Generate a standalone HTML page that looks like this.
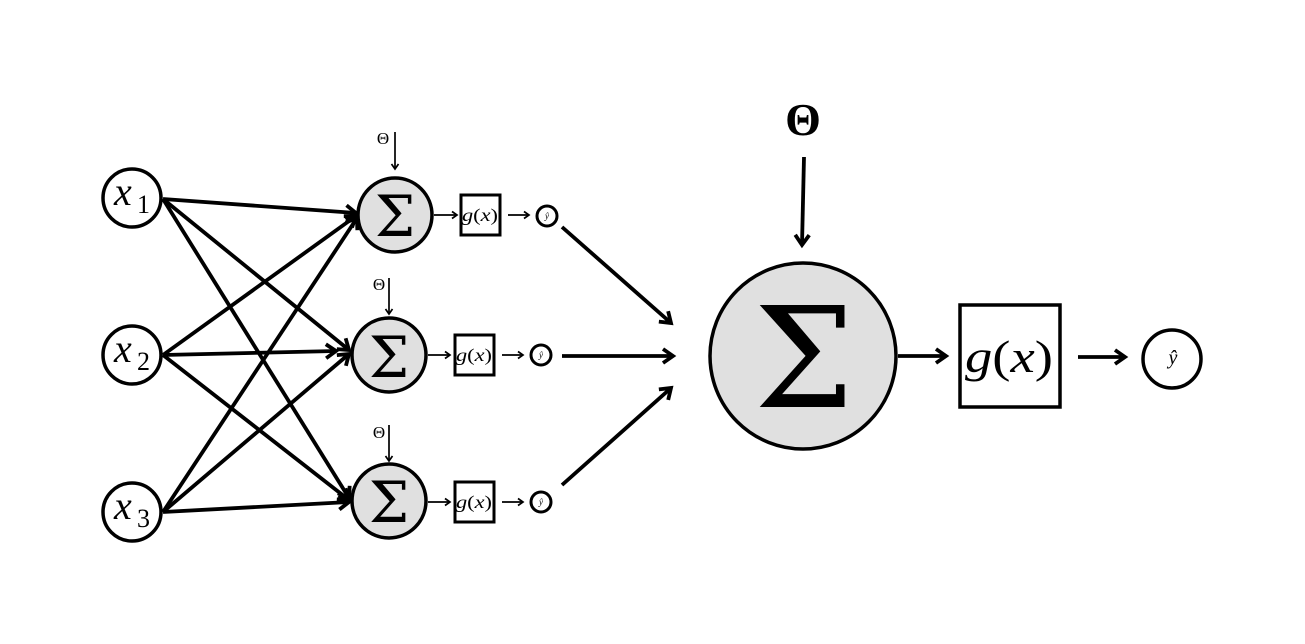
<!DOCTYPE html>
<html><head><meta charset="utf-8"><style>
html,body{margin:0;padding:0;background:#fff;}
svg{display:block;}
text{font-family:"Liberation Serif",serif;fill:#000;}
.sg{font-family:"DejaVu Serif","Liberation Serif",serif;}
</style></head><body>
<svg width="1305" height="644" viewBox="0 0 1305 644" xmlns="http://www.w3.org/2000/svg">
<defs>
<marker id="a" markerWidth="20" markerHeight="20" refX="13" refY="9" orient="auto" markerUnits="userSpaceOnUse">
<path d="M3,2 L13,9 L3,16" fill="none" stroke="#000" stroke-width="3.8"/>
</marker>
<marker id="s" markerWidth="12" markerHeight="12" refX="7" refY="5" orient="auto" markerUnits="userSpaceOnUse">
<path d="M2,1.5 L7,5 L2,8.5" fill="none" stroke="#000" stroke-width="1.7"/>
</marker>
</defs>

<!-- input-to-hidden connections -->
<g stroke="#000" stroke-width="3.8" fill="none" marker-end="url(#a)">
<line x1="163" y1="199" x2="356" y2="213"/>
<line x1="163" y1="199" x2="349" y2="350"/>
<line x1="163" y1="199" x2="349" y2="498"/>
<line x1="163" y1="355" x2="356" y2="216"/>
<line x1="163" y1="355" x2="336" y2="351"/>
<line x1="163" y1="355" x2="349" y2="500"/>
<line x1="163" y1="512" x2="357" y2="218"/>
<line x1="163" y1="512" x2="349" y2="354"/>
<line x1="163" y1="512" x2="349" y2="502"/>
</g>

<!-- input nodes -->
<g stroke="#000" stroke-width="3.5" fill="#fff">
<circle cx="132" cy="198" r="29"/>
<circle cx="132" cy="355" r="29"/>
<circle cx="132" cy="512" r="29"/>
</g>
<g font-style="italic" font-size="40">
<text x="114" y="205">x</text>
<text x="114" y="362">x</text>
<text x="114" y="519">x</text>
</g>
<g font-size="26">
<text x="137" y="213">1</text>
<text x="137" y="370">2</text>
<text x="137" y="527">3</text>
</g>

<!-- hidden sum nodes -->
<g stroke="#000" stroke-width="3.5" fill="#e0e0e0">
<circle cx="395" cy="215" r="37"/>
<circle cx="389" cy="355" r="37"/>
<circle cx="389" cy="501" r="37"/>
</g>
<g class="sg" font-size="57" text-anchor="middle">
<text x="395" y="236" class="sg">Σ</text>
<text x="389" y="377" class="sg">Σ</text>
<text x="389" y="522" class="sg">Σ</text>
</g>

<!-- small theta arrows -->
<g stroke="#000" stroke-width="1.7" fill="none" marker-end="url(#s)">
<line x1="395" y1="132" x2="395" y2="169"/>
<line x1="389" y1="278" x2="389" y2="314"/>
<line x1="389" y1="425" x2="389" y2="461"/>
</g>
<g font-size="17" text-anchor="middle">
<text x="383" y="144">Θ</text>
<text x="379" y="290">Θ</text>
<text x="379" y="438">Θ</text>
</g>

<!-- sum -> g(x) -> yhat small -->
<g stroke="#000" stroke-width="1.7" fill="none" marker-end="url(#s)">
<line x1="434" y1="215" x2="457" y2="215"/>
<line x1="508" y1="215" x2="529" y2="215"/>
<line x1="428" y1="355" x2="450" y2="355"/>
<line x1="502" y1="355" x2="523" y2="355"/>
<line x1="428" y1="502" x2="450" y2="502"/>
<line x1="502" y1="502" x2="523" y2="502"/>
</g>
<g stroke="#000" stroke-width="3" fill="#fff">
<rect x="461" y="195" width="39" height="40"/>
<rect x="455" y="335" width="39" height="40"/>
<rect x="455" y="482" width="39" height="40"/>
</g>
<g font-size="18" text-anchor="middle">
<text x="480" y="221" textLength="36" lengthAdjust="spacingAndGlyphs"><tspan font-style="italic">g</tspan>(<tspan font-style="italic">x</tspan>)</text>
<text x="474" y="361" textLength="36" lengthAdjust="spacingAndGlyphs"><tspan font-style="italic">g</tspan>(<tspan font-style="italic">x</tspan>)</text>
<text x="474" y="508" textLength="36" lengthAdjust="spacingAndGlyphs"><tspan font-style="italic">g</tspan>(<tspan font-style="italic">x</tspan>)</text>
</g>
<g stroke="#000" stroke-width="3" fill="#fff">
<circle cx="547" cy="216" r="10"/>
<circle cx="541" cy="355" r="10"/>
<circle cx="541" cy="502" r="10"/>
</g>
<g font-size="9" font-style="italic" text-anchor="middle" fill="#555">
<text x="547" y="219">ŷ</text>
<text x="541" y="358">ŷ</text>
<text x="541" y="505">ŷ</text>
</g>

<!-- arrows to big sum -->
<g stroke="#000" stroke-width="3.8" fill="none" marker-end="url(#a)">
<line x1="562" y1="227" x2="671" y2="323"/>
<line x1="562" y1="356" x2="673" y2="356"/>
<line x1="562" y1="485" x2="671" y2="388"/>
<line x1="804" y1="157" x2="802" y2="245"/>
<line x1="898" y1="356" x2="946" y2="356"/>
<line x1="1078" y1="357" x2="1125" y2="357"/>
</g>

<!-- big theta -->
<text x="803" y="135" font-size="46" font-weight="bold" text-anchor="middle">Θ</text>

<!-- big sum -->
<circle cx="803" cy="356" r="93" fill="#e0e0e0" stroke="#000" stroke-width="3.5"/>
<text x="804" y="407" class="sg" font-size="140" text-anchor="middle" textLength="100" lengthAdjust="spacingAndGlyphs">Σ</text>

<!-- big g(x) -->
<rect x="960" y="305" width="100" height="102" fill="#fff" stroke="#000" stroke-width="3.5"/>
<text x="1009" y="372" font-size="46" text-anchor="middle" textLength="88" lengthAdjust="spacingAndGlyphs"><tspan font-style="italic">g</tspan>(<tspan font-style="italic">x</tspan>)</text>

<!-- big yhat -->
<circle cx="1172" cy="359" r="29" fill="#fff" stroke="#000" stroke-width="3.5"/>
<text x="1173" y="364" font-size="20" font-style="italic" text-anchor="middle">ŷ</text>
</svg>
</body></html>
